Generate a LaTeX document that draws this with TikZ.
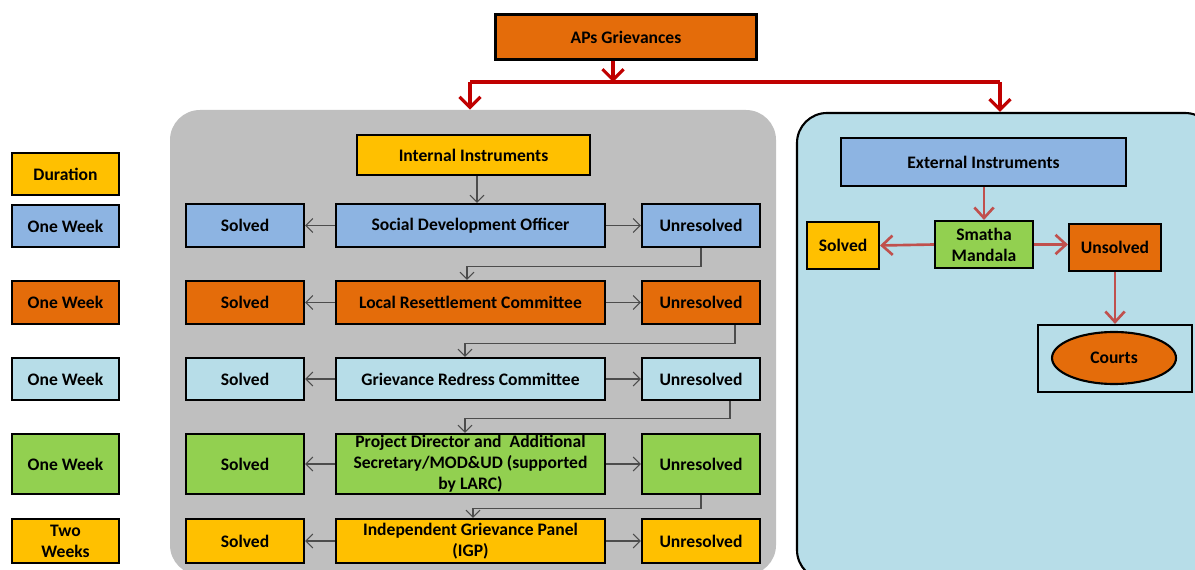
\documentclass[tikz,border=0pt]{standalone}
\usepackage{fontspec}
\setmainfont{Carlito}
\usetikzlibrary{arrows.meta,shapes.geometric}

\definecolor{orng}{RGB}{228,108,10}
\definecolor{blu}{RGB}{141,180,226}
\definecolor{lblu}{RGB}{183,221,232}
\definecolor{grn}{RGB}{146,208,80}
\definecolor{ylw}{RGB}{255,192,0}
\definecolor{gry}{RGB}{191,191,191}
\definecolor{dred}{RGB}{192,0,0}
\definecolor{bred}{RGB}{192,80,77}

\begin{document}
\begin{tikzpicture}[x=0.02cm,y=-0.02cm,
        box/.style={draw, line width=1.2pt, align=center, inner sep=0pt,
                        font=\bfseries\fontsize{10}{12}\selectfont},
        sz/.style 2 args={minimum width=#1*0.02cm, minimum height=#2*0.02cm},
        thinarr/.style={draw=black!70, line width=0.6pt,
                        -{Straight Barb[length=4pt,width=8pt]}},
        redarr/.style={draw=dred, line width=1.8pt,
                        -{Straight Barb[length=6pt,width=12pt]}},
        extarr/.style={draw=bred, line width=1.5pt,
                        -{Straight Barb[length=6pt,width=11pt]}}]
    \useasboundingbox (0,0) rectangle (1195,570);

    % background panels
    \node[fill=gry, rounded corners=0.6cm, sz={606}{465}] (int) at (473,342.5) {};
    \node[draw, fill=lblu, line width=1.2pt, rounded corners=0.6cm,
            sz={418}{467}] (ext) at (1006,346.5) {};

    % top
    \node[box, fill=orng, sz={261}{45}] (aps) at (626,37) {APs Grievances};
    \coordinate (jn) at (613,82);
    \coordinate (jl) at (470,82);
    \coordinate (jr) at (1000,82);
    \draw[redarr] (aps.south -| jn) -- (jn);
    \draw[dred, line width=1.8pt] (jl) -- (jr);
    \draw[redarr] (jl) -- (jl |- int.north);
    \draw[redarr] (jr) -- (jr |- ext.north);

    % legend
    \node[box, fill=ylw, sz={107}{42}] (d0) at (65.5,174) {Duration};
    \node[box, fill=blu, sz={107}{42}] (d1) at (65.5,226) {One Week};
    \node[box, fill=orng, sz={107}{43}] (d2) at (65.5,302.5) {One Week};
    \node[box, fill=lblu, sz={107}{42}] (d3) at (65.5,379) {One Week};
    \node[box, fill=grn, sz={107}{60}] (d4) at (65.5,464) {One Week};
    \node[box, fill=ylw, sz={107}{44}] (d5) at (65.5,541) {Two\\Weeks};

    % internal instruments
    \node[box, fill=ylw, sz={233}{40}] (ii) at (473.5,155) {Internal Instruments};

    \node[box, fill=blu, sz={269}{43}] (m1) at (470.5,225.5) {Social Development Officer};
    \node[box, fill=blu, sz={118}{43}] (s1) at (245,225.5) {Solved};
    \node[box, fill=blu, sz={118}{43}] (u1) at (701,225.5) {Unresolved};

    \node[box, fill=orng, sz={269}{43}] (m2) at (470.5,302.5) {Local Resettlement Committee};
    \node[box, fill=orng, sz={118}{43}] (s2) at (245,302.5) {Solved};
    \node[box, fill=orng, sz={118}{43}] (u2) at (701,302.5) {Unresolved};

    \node[box, fill=lblu, sz={269}{42}] (m3) at (470.5,379) {Grievance Redress Committee};
    \node[box, fill=lblu, sz={118}{42}] (s3) at (245,379) {Solved};
    \node[box, fill=lblu, sz={118}{42}] (u3) at (701,379) {Unresolved};

    \node[box, fill=grn, sz={269}{60}] (m4) at (470.5,464)
        {Project Director and~ Additional\\Secretary/MOD\&UD (supported\\by LARC)};
    \node[box, fill=grn, sz={118}{60}] (s4) at (245,464) {Solved};
    \node[box, fill=grn, sz={118}{60}] (u4) at (701,464) {Unresolved};

    \node[box, fill=ylw, sz={269}{44}] (m5) at (470.5,541)
        {Independent Grievance Panel\\(IGP)};
    \node[box, fill=ylw, sz={118}{44}] (s5) at (245,541) {Solved};
    \node[box, fill=ylw, sz={118}{44}] (u5) at (701,541) {Unresolved};

    \draw[thinarr] ([xshift=0.07cm]ii.south) -- ([xshift=0.07cm]ii.south |- m1.north);
    \draw[thinarr] (m1) -- (s1);  \draw[thinarr] (m1) -- (u1);
    \draw[thinarr] (m2) -- (s2);  \draw[thinarr] (m2) -- (u2);
    \draw[thinarr] (m3) -- (s3);  \draw[thinarr] (m3) -- (u3);
    \draw[thinarr] (m4) -- (s4);  \draw[thinarr] (m4) -- (u4);
    \draw[thinarr] (m5) -- (s5);  \draw[thinarr] (m5) -- (u5);

    \draw[thinarr] (u1.south) -- ++(0,18) -| ([xshift=-0.07cm]m2.north);
    \draw[thinarr] ([xshift=0.68cm]u2.south) -- ++(0,18) -| ([xshift=-0.11cm]m3.north);
    \draw[thinarr] ([xshift=0.58cm]u3.south) -- ++(0,17) -| ([xshift=-0.11cm]m4.north);
    \draw[thinarr] (u4.south) -- ++(0,13) -| ([xshift=0.05cm]m5.north);

    % external instruments
    \node[box, fill=blu, sz={285}{48}] (ei) at (983.5,162) {External Instruments};
    \node[box, fill=grn, sz={98}{47}] (sm) at (984,244.5) {Smatha\\Mandala};
    \node[box, fill=ylw, sz={72}{47}] (es) at (843,245.5) {Solved};
    \node[box, fill=orng, sz={92}{47}] (eu) at (1115,247.5) {Unsolved};
    \node[draw, line width=1.2pt, sz={154}{67}] (cf) at (1115,358.5) {};
    \node[box, ellipse, fill=orng, sz={124}{52}] (ct) at (1114,358) {Courts};

    \draw[extarr] (ei.south -| sm.north) -- (sm.north);
    \draw[extarr] (sm.west) -- (es.east);
    \draw[extarr] (sm.east) -- (sm.east -| eu.west);
    \draw[extarr] (eu.south) -- (cf.north);
\end{tikzpicture}
\end{document}
